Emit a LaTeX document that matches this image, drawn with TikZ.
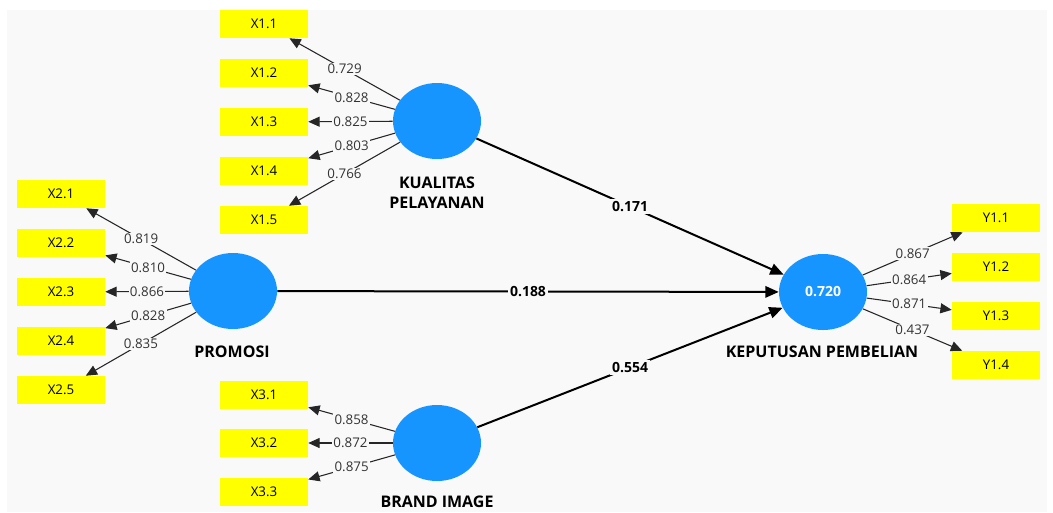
\documentclass[tikz,border=0pt]{standalone}
\usepackage{fontspec}
\setmainfont{Open Sans}
\usepackage{xcolor}
\usetikzlibrary{shapes.geometric,arrows.meta}
\definecolor{lvblue}{RGB}{22,148,255}
\definecolor{mvyellow}{RGB}{255,255,0}
\definecolor{canvas}{RGB}{249,249,249}
\tikzstyle{lv}=[ellipse, fill=lvblue, minimum width=66pt, minimum height=57pt, inner sep=0pt]
\tikzstyle{mv}=[rectangle, fill=mvyellow, minimum width=66pt, minimum height=21pt, inner sep=0pt, font=\fontsize{10}{12}\selectfont]
\tikzstyle{lvname}=[align=center, font=\fontsize{12}{15}\selectfont\bfseries]
\tikzstyle{load}=[draw=black!85, line width=0.8pt, -{Triangle[length=8.5pt,width=7.5pt]}]
\tikzstyle{path}=[draw=black, line width=1.5pt, -{Triangle[length=10pt,width=8.5pt]}]
\tikzstyle{wt}=[fill=canvas, inner sep=1pt, font=\fontsize{10}{12}\selectfont, text=black!80]
\tikzstyle{beta}=[fill=canvas, inner sep=1.5pt, font=\fontsize{10.5}{12}\selectfont\bfseries]

\begin{document}
\begin{tikzpicture}[x=0.75pt,y=-0.75pt]
\useasboundingbox (0,0) rectangle (1053,512);
\fill[white] (0,0) rectangle (1053,512);
\fill[canvas] (7,10) rectangle (1047,512);

% latent variables
\node[lv] (kp) at (437,121) {};
\node[lv] (pr) at (233,291) {};
\node[lv] (bi) at (437,443) {};
\node[lv, text=white, font=\fontsize{10.5}{12}\selectfont\bfseries] (kb) at (823,292) {0.720};
\node[lvname] (kpname) at (437,193) {KUALITAS\\PELAYANAN};
\node[lvname] (prname) at (232,352) {PROMOSI};
\node[lvname] (biname) at (437,502) {BRAND IMAGE};
\node[lvname] (kbname) at (822,352) {KEPUTUSAN PEMBELIAN};

% indicators
\foreach \n/\y/\w in {1/24/0.729, 2/73/0.828, 3/122/0.825, 4/171/0.803, 5/220/0.766} {
 \node[mv] (x1\n) at (264,\y) {X1.\n};
 \draw[load] (kp) -- node[wt] {\w} (x1\n);
}
\foreach \n/\y/\w in {1/194/0.819, 2/243/0.810, 3/292/0.866, 4/341/0.828, 5/390/0.835} {
 \node[mv] (x2\n) at (61,\y) {X2.\n};
 \draw[load] (pr) -- node[wt] {\w} (x2\n);
}
\foreach \n/\y/\w in {1/395/0.858, 2/443/0.872, 3/492/0.875} {
 \node[mv] (x3\n) at (264,\y) {X3.\n};
 \draw[load] (bi) -- node[wt] {\w} (x3\n);
}
\foreach \n/\y/\w in {1/218/0.867, 2/267/0.864, 3/316/0.871, 4/365/0.437} {
 \node[mv] (y1\n) at (996,\y) {Y1.\n};
 \draw[load] (kb) -- node[wt] {\w} (y1\n);
}

% structural paths
\draw[path] (kp) -- node[beta] {0.171} (kb);
\draw[path] (pr) -- node[beta] {0.188} (kb);
\draw[path] (bi) -- node[beta] {0.554} (kb);
\end{tikzpicture}
\end{document}
